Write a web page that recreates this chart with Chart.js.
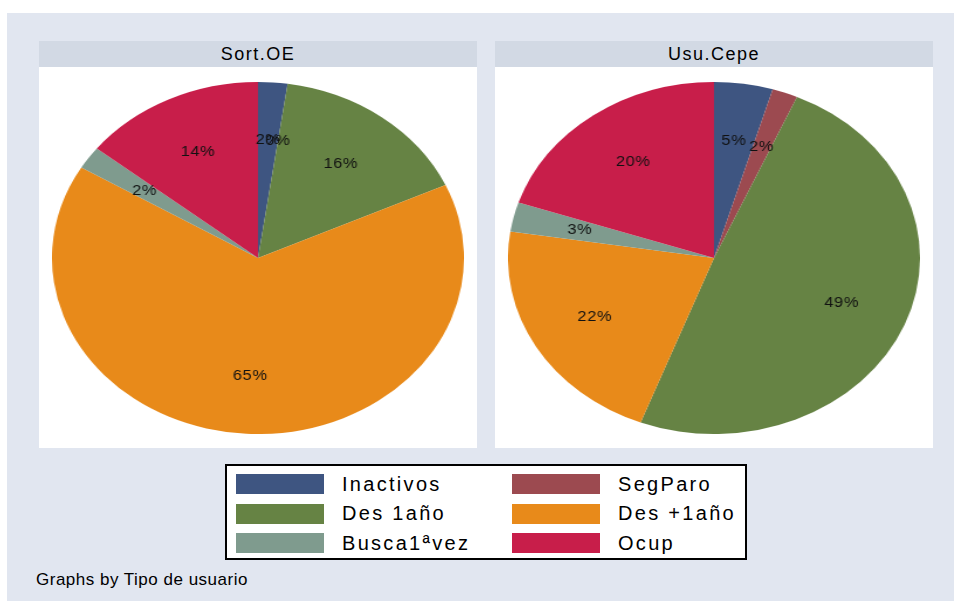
<!DOCTYPE html>
<html>
<head>
<meta charset="utf-8">
<script src="https://cdn.jsdelivr.net/npm/chart.js@4/dist/chart.umd.min.js"></script>
<style>
  html, body { margin:0; padding:0; background:#ffffff; }
  body { width:954px; height:601px; position:relative; overflow:hidden; font-family:"Liberation Sans", Arial, sans-serif; }
  #bg { position:absolute; left:7px; top:13px; width:947px; height:588px; background:#e1e6f0; }
  .hdr { position:absolute; top:41px; height:26px; background:#d2d9e4; color:#000; font-size:18px; letter-spacing:1.5px;
         display:flex; align-items:center; justify-content:center; }
  .plot { position:absolute; top:67px; height:381px; background:#ffffff; }
  .pie { position:absolute; top:82px; width:352px; height:352px; transform:scaleX(1.1705); transform-origin:50% 50%; }
  #legend { position:absolute; left:225px; top:464px; width:518px; height:92px; background:#fff; border:2px solid #000; }
  .item { position:absolute; display:flex; align-items:center; height:20px; font-size:20px; letter-spacing:2.3px; color:#000; }
  .sw { width:88px; height:20px; margin-right:18px; flex:none; }
  #foot { position:absolute; left:36px; top:570px; font-size:17px; letter-spacing:0.5px; color:#000; }
</style>
</head>
<body>
<div id="bg"></div>
<div class="hdr" style="left:39px;width:438px;" id="t1"></div>
<div class="hdr" style="left:495px;width:438px;" id="t2"></div>
<div class="plot" style="left:39px;width:438px;"></div>
<div class="plot" style="left:495px;width:438px;"></div>
<div class="pie" style="left:82px;"><canvas id="c1"></canvas></div>
<div class="pie" style="left:538px;"><canvas id="c2"></canvas></div>
<div id="legend"></div>
<div id="foot">Graphs by Tipo de usuario</div>
<script>
const categories = ["Inactivos", "SegParo", "Des 1año", "Des +1año", "Busca1ªvez", "Ocup"];
const panelTitles = ["Sort.OE", "Usu.Cepe"];
const sortOE  = [2.3, 0.0, 15.9, 65.4, 2.1, 14.3];
const usuCepe = [4.6, 2.0, 49.2, 21.6, 2.7, 19.9];
const colors = ["#3e5581", "#9c4a50", "#668344", "#e88a1a", "#7f9b8e", "#c81e4a"];

document.getElementById('t1').textContent = panelTitles[0];
document.getElementById('t2').textContent = panelTitles[1];

// legend (two columns, three rows)
const leg = document.getElementById('legend');
categories.forEach((c, i) => {
  const col = i % 2, row = Math.floor(i / 2);
  const d = document.createElement('div');
  d.className = 'item';
  d.style.left = (col === 0 ? 9 : 285) + 'px';
  d.style.top = (8 + row * 29.5) + 'px';
  const s = document.createElement('div');
  s.className = 'sw';
  s.style.background = colors[i];
  const t = document.createElement('span');
  t.textContent = c;
  d.appendChild(s); d.appendChild(t);
  leg.appendChild(d);
});

const pctLabels = {
  id: 'pctLabels',
  afterDatasetsDraw(chart) {
    const ctx = chart.ctx;
    const ds = chart.data.datasets[0].data;
    const total = ds.reduce((a, b) => a + b, 0);
    const meta = chart.getDatasetMeta(0);
    ctx.save();
    ctx.font = '14px "Liberation Sans", Arial, sans-serif';
    if ('letterSpacing' in ctx) ctx.letterSpacing = '0.5px';
    ctx.fillStyle = '#111';
    ctx.textAlign = 'center';
    ctx.textBaseline = 'middle';
    meta.data.forEach((arc, i) => {
      const p = arc.getProps(['x', 'y', 'startAngle', 'endAngle', 'outerRadius'], true);
      const mid = (p.startAngle + p.endAngle) / 2;
      const r = p.outerRadius * 0.67;
      const txt = Math.round(ds[i] / total * 100) + '%';
      ctx.fillText(txt, p.x + Math.cos(mid) * r, p.y + Math.sin(mid) * r);
    });
    ctx.restore();
  }
};

function makePie(id, values) {
  new Chart(document.getElementById(id), {
    type: 'pie',
    data: {
      labels: categories,
      datasets: [{ data: values, backgroundColor: colors, borderWidth: 0 }]
    },
    options: {
      responsive: true,
      maintainAspectRatio: false,
      animation: false,
      layout: { padding: 0 },
      plugins: { legend: { display: false }, tooltip: { enabled: false } }
    },
    plugins: [pctLabels]
  });
}
makePie('c1', sortOE);
makePie('c2', usuCepe);
</script>
</body>
</html>
